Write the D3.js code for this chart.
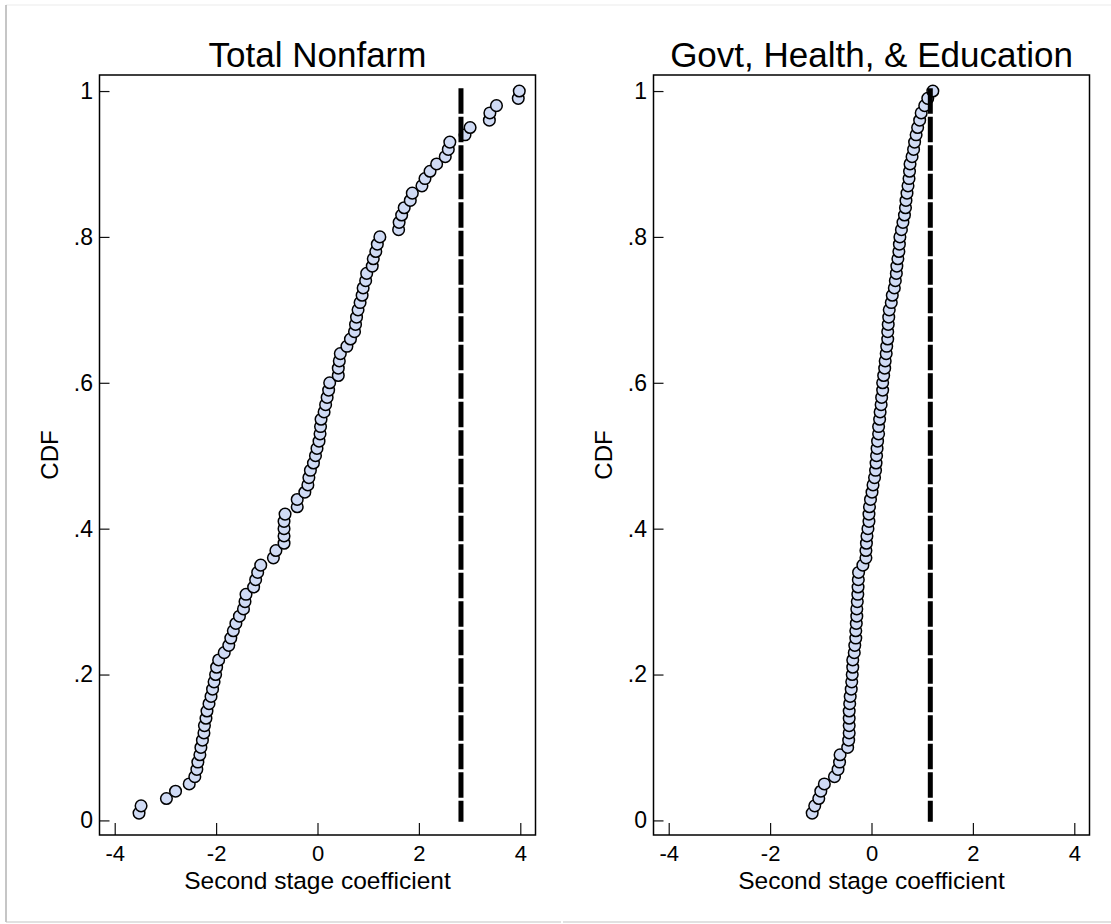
<!DOCTYPE html>
<html>
<head>
<meta charset="utf-8">
<script src="https://cdn.jsdelivr.net/npm/d3@7"></script>
<style>
  body { margin: 0; background: #fff; }
  svg text { font-family: "Liberation Sans", Arial, sans-serif; fill: #000; }
</style>
</head>
<body>
<div id="chart"></div>
<script>
////////////////////////////////////////////////////////////////////////
// Data

// empirical CDF levels (rank / N, N = 100), shared by both panels
let cdfLevels = [
  0.01, 0.02, 0.03, 0.04, 0.05, 0.06, 0.07, 0.08, 0.09, 0.10,
  0.11, 0.12, 0.13, 0.14, 0.15, 0.16, 0.17, 0.18, 0.19, 0.20,
  0.21, 0.22, 0.23, 0.24, 0.25, 0.26, 0.27, 0.28, 0.29, 0.30,
  0.31, 0.32, 0.33, 0.34, 0.35, 0.36, 0.37, 0.38, 0.39, 0.40,
  0.41, 0.42, 0.43, 0.44, 0.45, 0.46, 0.47, 0.48, 0.49, 0.50,
  0.51, 0.52, 0.53, 0.54, 0.55, 0.56, 0.57, 0.58, 0.59, 0.60,
  0.61, 0.62, 0.63, 0.64, 0.65, 0.66, 0.67, 0.68, 0.69, 0.70,
  0.71, 0.72, 0.73, 0.74, 0.75, 0.76, 0.77, 0.78, 0.79, 0.80,
  0.81, 0.82, 0.83, 0.84, 0.85, 0.86, 0.87, 0.88, 0.89, 0.90,
  0.91, 0.92, 0.93, 0.94, 0.95, 0.96, 0.97, 0.98, 0.99, 1.00
];

// sorted second stage coefficients, Total Nonfarm
let nonfarmCoefs = [
  -3.52, -3.48, -2.98, -2.80, -2.53, -2.42, -2.38, -2.36, -2.32, -2.30,
  -2.27, -2.24, -2.23, -2.20, -2.18, -2.14, -2.10, -2.07, -2.04, -2.01,
  -1.99, -1.95, -1.84, -1.75, -1.71, -1.66, -1.61, -1.54, -1.46, -1.43,
  -1.41, -1.26, -1.22, -1.18, -1.12, -0.87, -0.82, -0.66, -0.66, -0.66,
  -0.66, -0.64, -0.40, -0.40, -0.25, -0.19, -0.17, -0.14, -0.08, -0.04,
  -0.01, 0.03, 0.05, 0.06, 0.07, 0.13, 0.16, 0.19, 0.22, 0.24,
  0.41, 0.41, 0.43, 0.45, 0.58, 0.65, 0.73, 0.75, 0.77, 0.80,
  0.84, 0.88, 0.90, 0.95, 0.97, 1.08, 1.10, 1.15, 1.18, 1.23,
  1.60, 1.61, 1.66, 1.71, 1.83, 1.87, 2.06, 2.12, 2.22, 2.35,
  2.52, 2.58, 2.61, 2.91, 3.01, 3.39, 3.40, 3.53, 3.96, 3.98
];

// sorted second stage coefficients, Govt, Health, & Education
let govtCoefs = [
  -1.17, -1.12, -1.04, -1.00, -0.93, -0.73, -0.66, -0.63, -0.62, -0.47,
  -0.45, -0.44, -0.44, -0.44, -0.44, -0.43, -0.42, -0.40, -0.39, -0.38,
  -0.37, -0.37, -0.34, -0.33, -0.31, -0.31, -0.30, -0.29, -0.29, -0.28,
  -0.27, -0.265, -0.26, -0.255, -0.17, -0.11, -0.11, -0.10, -0.09, -0.07,
  -0.05, -0.05, -0.04, -0.02, 0.01, 0.03, 0.06, 0.08, 0.09, 0.10,
  0.11, 0.12, 0.14, 0.14, 0.16, 0.17, 0.19, 0.20, 0.22, 0.22,
  0.24, 0.26, 0.27, 0.29, 0.30, 0.32, 0.32, 0.33, 0.34, 0.35,
  0.39, 0.41, 0.45, 0.47, 0.49, 0.50, 0.52, 0.54, 0.55, 0.56,
  0.59, 0.62, 0.65, 0.67, 0.68, 0.70, 0.72, 0.74, 0.75, 0.76,
  0.80, 0.83, 0.85, 0.88, 0.91, 0.95, 0.98, 1.05, 1.11, 1.21
];

let panelTitles = ["Total Nonfarm", "Govt, Health, & Education"];
let referenceLines = [2.83, 1.16];   // dashed vertical line per panel

let xTickValues = [-4, -2, 0, 2, 4];
let yTickValues = [0, 0.2, 0.4, 0.6, 0.8, 1];
let yTickLabels = ["0", ".2", ".4", ".6", ".8", "1"];

let xTitle = "Second stage coefficient";
let yTitle = "CDF";

////////////////////////////////////////////////////////////////////////
// svg setup

let width = 1111;
let height = 924;

let svg = d3.select("#chart")
  .append("svg")
  .attr("width", width).attr("height", height);

// faint outer border of the exported graph
svg.append("line").attr("x1", 6).attr("x2", width).attr("y1", 5).attr("y2", 5)
  .style("stroke", "#ececec").style("stroke-width", 1.2);
svg.append("line").attr("x1", 6).attr("x2", 6).attr("y1", 5).attr("y2", 922)
  .style("stroke", "#a0a0a0").style("stroke-width", 1.2);
svg.append("line").attr("x1", 6).attr("x2", 561).attr("y1", 922).attr("y2", 922)
  .style("stroke", "#c4c4c4").style("stroke-width", 1.2);
svg.append("line").attr("x1", 563).attr("x2", width).attr("y1", 922).attr("y2", 922)
  .style("stroke", "#c4c4c4").style("stroke-width", 1.2);

// plot regions for the two panels
let panels = [
  { left: 99.5, coefs: nonfarmCoefs },
  { left: 653.5, coefs: govtCoefs }
];
let plotW = 436;
let plotTop = 75;
let plotBottom = 835;

////////////////////////////////////////////////////////////////////////
// draw each panel

panels.forEach(function(p, i) {
  let xScale = d3.scaleLinear()
    .domain([-4.3, 4.3])
    .range([p.left, p.left + plotW]);

  let yScale = d3.scaleLinear()
    .domain([-0.02, 1.022])
    .range([plotBottom, plotTop]);

  let g = svg.append("g").attr("class", "panel");

  // title
  g.append("text")
    .attr("x", p.left + plotW / 2)
    .attr("y", 67)
    .attr("text-anchor", "middle")
    .style("font-size", "35px")
    .text(panelTitles[i]);

  // x axis, ticks pointing into the plot
  let xAxis = d3.axisBottom(xScale)
    .tickValues(xTickValues)
    .tickFormat(d3.format("d"))
    .tickSizeInner(-12)
    .tickSizeOuter(0)
    .tickPadding(10);

  let gx = g.append("g")
    .attr("transform", "translate(0," + plotBottom + ")")
    .call(xAxis);
  gx.select(".domain").remove();
  gx.selectAll(".tick line").style("stroke", "#111").style("stroke-width", 1.2);
  gx.selectAll(".tick text")
    .style("font-size", "22px")
    .style("font-family", "'Liberation Sans', Arial, sans-serif")
    .text(function(d) { return d < 0 ? "-" + Math.abs(d) : d; });

  // y axis, ticks pointing into the plot
  let yAxis = d3.axisLeft(yScale)
    .tickValues(yTickValues)
    .tickFormat(function(d, k) { return yTickLabels[k]; })
    .tickSizeInner(-10)
    .tickSizeOuter(0)
    .tickPadding(6.5);

  let gy = g.append("g")
    .attr("transform", "translate(" + p.left + ",0)")
    .call(yAxis);
  gy.select(".domain").remove();
  gy.selectAll(".tick line").style("stroke", "#111").style("stroke-width", 1.2);
  gy.selectAll(".tick text")
    .style("font-size", "23px")
    .style("font-family", "'Liberation Sans', Arial, sans-serif");

  // frame around the plot region
  g.append("rect")
    .attr("x", p.left).attr("y", plotTop)
    .attr("width", plotW).attr("height", plotBottom - plotTop)
    .style("fill", "none")
    .style("stroke", "#000")
    .style("stroke-width", 1.5);

  // axis titles
  g.append("text")
    .attr("x", p.left + plotW / 2)
    .attr("y", 889)
    .attr("text-anchor", "middle")
    .style("font-size", "24.5px")
    .text(xTitle);

  g.append("text")
    .attr("transform", "translate(" + (p.left - 42) + "," + ((plotTop + plotBottom) / 2) + ") rotate(-90)")
    .attr("text-anchor", "middle")
    .style("font-size", "24px")
    .text(yTitle);

  // CDF points
  g.append("g")
    .selectAll(".datapoint")
    .data(p.coefs)
    .enter()
    .append("circle")
    .attr("class", "datapoint")
    .attr("cx", function(d) { return xScale(d); })
    .attr("cy", function(d, k) { return yScale(cdfLevels[k]); })
    .attr("r", 5.8)
    .style("fill", "#d0dbf5")
    .style("stroke", "#000")
    .style("stroke-width", 1.5);

  // dashed reference line
  g.append("line")
    .attr("x1", xScale(referenceLines[i]))
    .attr("x2", xScale(referenceLines[i]))
    .attr("y1", yScale(1.004))
    .attr("y2", yScale(-0.002))
    .style("stroke", "#000")
    .style("stroke-width", 5)
    .style("stroke-dasharray", "25.5,3");
});
</script>
</body>
</html>
